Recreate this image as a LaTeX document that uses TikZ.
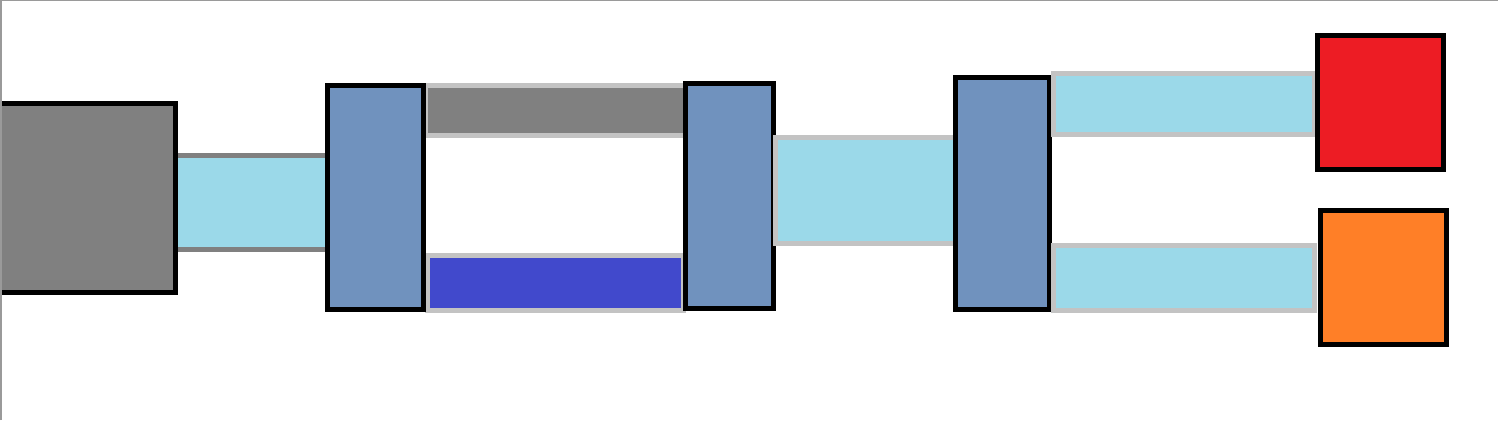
\documentclass[tikz,border=0pt]{standalone}
\usepackage{tikz}
\definecolor{boxgray}{HTML}{808080}
\definecolor{lblue}{HTML}{9BD9E9}
\definecolor{steel}{HTML}{7092BE}
\definecolor{royal}{HTML}{4149CC}
\definecolor{lgray}{HTML}{C3C3C3}
\definecolor{redsq}{HTML}{ED1C24}
\definecolor{orangesq}{HTML}{FF7F27}
\definecolor{frame}{HTML}{9A9A9A}
\tikzset{
  blk/.style={rectangle, inner sep=0pt, outer sep=0pt, draw=black, line width=5pt},
  bar/.style={rectangle, inner sep=0pt, outer sep=0pt, draw=lgray, line width=5pt},
  hub/.style={blk, fill=steel},
}
\begin{document}
\begin{tikzpicture}[x=1pt,y=-1pt]
\useasboundingbox (0,0) rectangle (1498,420);
\fill[white] (0,0) rectangle (1498,420);
% connectors / bars (behind)
\node[rectangle, inner sep=0pt, outer sep=0pt, fill=lblue, minimum width=148pt, minimum height=94pt] (c1) at (252,202.5) {};
\draw[boxgray, line width=5pt] (c1.north west) -- (c1.north east);
\draw[boxgray, line width=5pt] (c1.south west) -- (c1.south east);
\node[bar, fill=boxgray, minimum width=260pt, minimum height=50pt] (gbar) at (555.5,110.5) {};
\node[bar, fill=royal, minimum width=256pt, minimum height=55pt] (bbar) at (555.5,283) {};
% source box
\node[blk, fill=boxgray, minimum width=179pt, minimum height=189pt] (src) at (86,198) {};
% hubs
\node[hub, minimum width=96pt, minimum height=224pt] (h1) at (375.5,197.5) {};
\node[hub, minimum width=88pt, minimum height=225pt] (h2) at (729.5,196) {};
\node[bar, fill=lblue, minimum width=182pt, minimum height=106pt] (c2) at (866.5,190.5) {};
\node[hub, minimum width=94pt, minimum height=232pt] (h3) at (1002.5,193.5) {};
\node[bar, fill=lblue, minimum width=261pt, minimum height=61pt] (c3) at (1184,104) {};
\node[bar, fill=lblue, minimum width=261pt, minimum height=65pt] (c4) at (1184,278) {};
% sinks
\node[blk, fill=redsq, minimum width=126pt, minimum height=134pt] (red) at (1380.5,102.5) {};
\node[blk, fill=orangesq, minimum width=126pt, minimum height=134pt] (orange) at (1383.5,277.5) {};
% frame
\draw[frame, line width=2pt] (1,420) -- (1,0) -- (1498,0);
\end{tikzpicture}
\end{document}
